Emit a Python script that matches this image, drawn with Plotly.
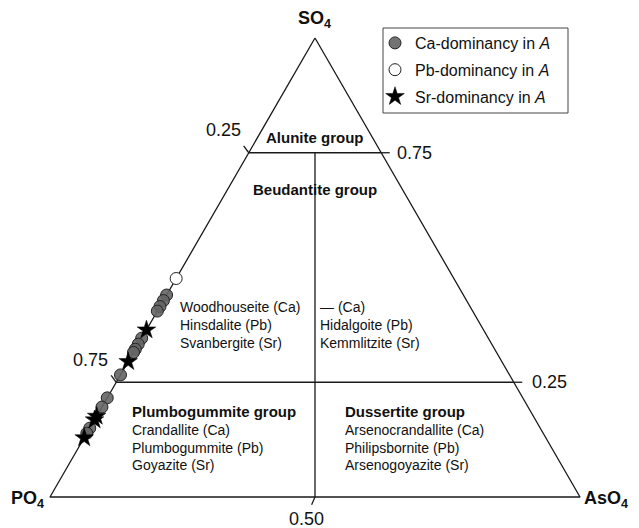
import math
import plotly.graph_objects as go

# compositions as (SO4, PO4, AsO4) fractions; all samples sit on the PO4-SO4 join
ca_so4 = [0.440, 0.428, 0.415, 0.405, 0.346, 0.333, 0.322, 0.315, 0.266, 0.216, 0.196, 0.150, 0.139]
pb_so4 = [0.476]
sr_so4 = [0.364, 0.295, 0.176, 0.168, 0.129]

corners = ["SO<sub>4</sub>", "PO<sub>4</sub>", "AsO<sub>4</sub>"]
legend_names = ["Ca-dominancy in <i>A</i>", "Pb-dominancy in <i>A</i>", "Sr-dominancy in <i>A</i>"]

# field boundaries (SO4, PO4, AsO4)
outline = [(1, 0, 0), (0, 1, 0), (0, 0, 1), (1, 0, 0)]
upper_div = [(0.75, 0.25, 0), (0.75, 0, 0.25)]
lower_div = [(0.25, 0.75, 0), (0.25, 0, 0.75)]
mid_div = [(0.75, 0.125, 0.125), (0, 0.5, 0.5)]

groups = ["Alunite group", "Beudantite group", "Plumbogummite group", "Dussertite group"]
beud_left = ["Woodhouseite (Ca)", "Hinsdalite (Pb)", "Svanbergite (Sr)"]
beud_right = ["— (Ca)", "Hidalgoite (Pb)", "Kemmlitzite (Sr)"]
plumb = ["Crandallite (Ca)", "Plumbogummite (Pb)", "Goyazite (Sr)"]
duss = ["Arsenocrandallite (Ca)", "Philipsbornite (Pb)", "Arsenogoyazite (Sr)"]

FONT = "Liberation Sans, Arial, sans-serif"
H = math.sqrt(3) / 2


def to_xy(s, p, a):
    t = s + p + a
    return (a + s / 2) / t, s * H / t


def path(points):
    xs, ys = zip(*[to_xy(*pt) for pt in points])
    return list(xs), list(ys)


def edge_samples(so4):
    xs, ys = path([(s, 1 - s, 0) for s in so4])
    return xs, ys


fig = go.Figure()

line_style = dict(color="#1a1a1a", width=1.3)
for seg in [outline, upper_div, lower_div, mid_div]:
    x, y = path(seg)
    fig.add_trace(go.Scatter(x=x, y=y, mode="lines", line=line_style,
                             showlegend=False, hoverinfo="skip"))

# small tick marks (unit direction in data space, length in data units)
tk = 0.016
ticks = [
    ((0.75, 0.25, 0), (-0.6, 0.8)),
    ((0.25, 0.75, 0), (-0.6, 0.8)),
    ((0, 0.5, 0.5), (-0.4, -0.92)),
    ((0.75, 0, 0.25), (1, 0)),
    ((0.25, 0, 0.75), (1, 0)),
]
for pt, (dx, dy) in ticks:
    x0, y0 = to_xy(*pt)
    fig.add_trace(go.Scatter(x=[x0, x0 + dx * tk], y=[y0, y0 + dy * tk], mode="lines",
                             line=line_style, showlegend=False, hoverinfo="skip"))

x, y = edge_samples(ca_so4)
fig.add_trace(go.Scatter(x=x, y=y, mode="markers", name=legend_names[0], legendgroup="ca",
                         marker=dict(symbol="circle", size=12, color="rgba(100,100,100,0.9)",
                                     line=dict(color="#222", width=1))))
x, y = edge_samples(pb_so4)
fig.add_trace(go.Scatter(x=x, y=y, mode="markers", name=legend_names[1], legendgroup="pb",
                         marker=dict(symbol="circle", size=12, color="white",
                                     line=dict(color="#222", width=1))))
x, y = edge_samples(sr_so4)
fig.add_trace(go.Scatter(x=x, y=y, mode="markers", name=legend_names[2], legendgroup="sr",
                         marker=dict(symbol="star", size=14, color="black",
                                     line=dict(color="black", width=0.5))))

ann = []


def label(x, y, text, size=14, bold=False, xanchor="left", xshift=0, yshift=0):
    if bold:
        text = "<b>" + text + "</b>"
    ann.append(dict(x=x, y=y, xref="x", yref="y", text=text, showarrow=False,
                    xanchor=xanchor, yanchor="middle", xshift=xshift, yshift=yshift,
                    font=dict(family=FONT, size=size, color="#111")))


# corner labels
sx, sy = to_xy(1, 0, 0)
label(sx, sy, corners[0], size=18, bold=True, xanchor="center", xshift=-1, yshift=19)
px_, py_ = to_xy(0, 1, 0)
label(px_, py_, corners[1], size=18, bold=True, xanchor="right", xshift=-4, yshift=-2)
ax_, ay_ = to_xy(0, 0, 1)
label(ax_, ay_, corners[2], size=18, bold=True, xanchor="left", xshift=2, yshift=-2)

# tick labels
x0, y0 = to_xy(0.75, 0.25, 0)
label(x0, y0, "0.25", size=18, xanchor="center", xshift=-25, yshift=23)
x0, y0 = to_xy(0.25, 0.75, 0)
label(x0, y0, "0.75", size=18, xanchor="center", xshift=-26, yshift=22)
x0, y0 = to_xy(0, 0.5, 0.5)
label(x0, y0, "0.50", size=18, xanchor="center", xshift=-9, yshift=-22)
x0, y0 = to_xy(0.75, 0, 0.25)
label(x0, y0, "0.75", size=18, xanchor="left", xshift=14)
x0, y0 = to_xy(0.25, 0, 0.75)
label(x0, y0, "0.25", size=18, xanchor="left", xshift=16)

# field names
label(0.5, 0.679, groups[0], size=15, bold=True, xanchor="center")
label(0.5, 0.581, groups[1], size=15, bold=True, xanchor="center")
rows = [0.3585, 0.3245, 0.2906]
for yy, t in zip(rows, beud_left):
    label(0.2415, yy, t)
for yy, t in zip(rows, beud_right):
    label(0.5057, yy, t)
rows = [0.1264, 0.0925, 0.0604]
label(0.151, 0.1604, groups[2], size=15, bold=True)
for yy, t in zip(rows, plumb):
    label(0.151, yy, t)
label(0.5528, 0.1604, groups[3], size=15, bold=True)
for yy, t in zip(rows, duss):
    label(0.5528, yy, t)

fig.update_layout(
    width=639, height=528,
    margin=dict(l=0, r=0, t=0, b=0),
    plot_bgcolor="white", paper_bgcolor="white",
    xaxis=dict(visible=False, range=[-50 / 530, 589 / 530], fixedrange=True),
    yaxis=dict(visible=False, range=[-31 / 530, 497 / 530], fixedrange=True),
    annotations=ann,
    # legend frame drawn as a shape so the symbols can sit close to its left edge
    shapes=[dict(type="rect", xref="paper", yref="paper",
                 x0=383 / 639, x1=568 / 639, y0=1 - 113 / 528, y1=1 - 28 / 528,
                 line=dict(color="#444", width=1), fillcolor="rgba(0,0,0,0)")],
    showlegend=True,
    legend=dict(x=375 / 639, y=1 - 26 / 528, xanchor="left", yanchor="top",
                borderwidth=0, bgcolor="rgba(0,0,0,0)",
                font=dict(family=FONT, size=16, color="#111"),
                traceorder="grouped", tracegroupgap=3, itemsizing="trace"),
    font=dict(family=FONT),
)

fig.write_html("out.html", config={"displayModeBar": False},
               post_script="document.body.style.margin='0px';")
